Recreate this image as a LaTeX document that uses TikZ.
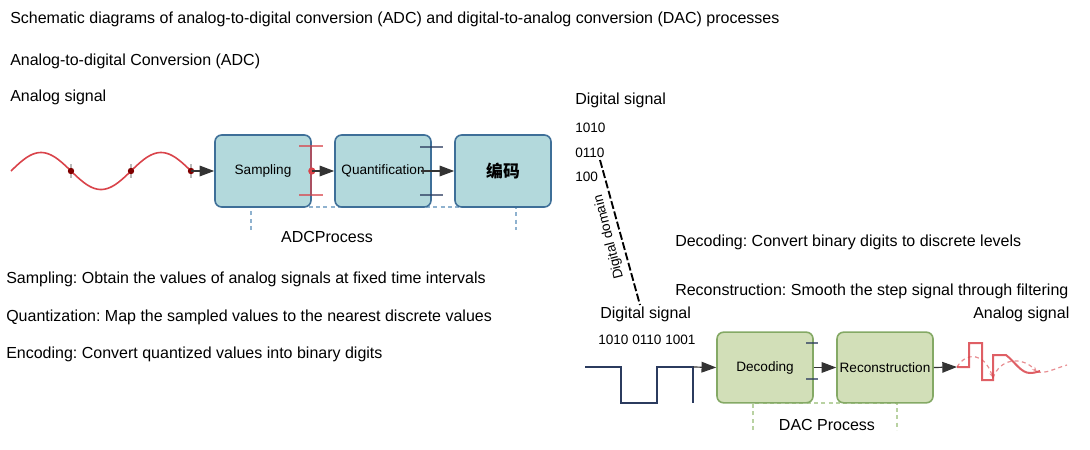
\documentclass[tikz,border=0pt]{standalone}
\usepackage{fontspec}
\setmainfont{Liberation Sans}
\newfontfamily\cjk{Noto Sans CJK SC}
\usetikzlibrary{arrows.meta,calc}
\frenchspacing
\definecolor{adcfill}{HTML}{B3D9DC}
\definecolor{adcline}{HTML}{3E6F98}
\definecolor{adcdash}{HTML}{8FB2CF}
\definecolor{dacfill}{HTML}{D2DFB8}
\definecolor{dacline}{HTML}{84A965}
\definecolor{dacdash}{HTML}{B9D2A2}
\definecolor{sigred}{HTML}{D9434A}
\definecolor{navy}{HTML}{2B3B5E}
\definecolor{arrgrey}{HTML}{333333}
\tikzset{
  txt/.style={anchor=west, inner sep=0pt, font=\fontsize{12}{14}\selectfont},
  numtxt/.style={anchor=west, inner sep=0pt, font=\fontsize{10.2}{12}\selectfont},
  captxt/.style={inner sep=0pt, font=\fontsize{12}{14}\selectfont},
  adcbox/.style={draw=adcline, line width=1.2pt, fill=adcfill, rounded corners=5pt,
                 minimum width=72pt, minimum height=54pt, inner sep=0pt,
                 font=\fontsize{10.2}{12}\selectfont},
  dacbox/.style={draw=dacline, line width=1.2pt, fill=dacfill, rounded corners=5pt,
                 minimum width=72pt, minimum height=53pt, inner sep=0pt,
                 font=\fontsize{10.2}{12}\selectfont},
  arr/.style={-{Triangle[length=11pt,width=8pt]}, line width=0.9pt, color=arrgrey},
  boxdash/.style={line width=0.8pt, dash pattern=on 3pt off 2.5pt},
  tickmark/.style={line width=1.2pt, opacity=0.7}}

\begin{document}
\begin{tikzpicture}[x=0.75pt, y=-0.75pt]
    \useasboundingbox (0,0) rectangle (1090,450);
    % headings
    \node[txt] (title) at (10,19)
      {Schematic diagrams of analog-to-digital conversion (ADC) and digital-to-analog conversion (DAC) processes};
    \node[txt] (adchead) at (10,61) {Analog-to-digital Conversion (ADC)};
    \node[txt] (ain) at (10,97) {Analog signal};
    % ADC chain
    \draw[boxdash, adcdash] (251,230) -- (251,207) -- (516,207) -- (516,230);
    \node[adcbox] (samp) at (263,171) {Sampling};
    \node[adcbox] (quant) at (383,171) {Quantification};
    \node[adcbox, font=\cjk\bfseries\fontsize{12.6}{14}\selectfont] (enc) at (503,171) {编码};
    \node[captxt] (adcp) at (327,237) {ADCProcess};
    % the analog input and its samples
    \draw[sigred, line width=1.2pt] plot[domain=11:191, samples=90] (\x, {171-18.5*sin(3*(\x-11))});
    \foreach \x in {71,131,191} {
      \draw[gray!55, line width=1.2pt] (\x,164) -- (\x,178);
      \fill[red!50!black] (\x,171) circle (3.2);
    }
    \coordinate (wend) at (191,171);
    \draw[arr] (wend) -- (samp.west);
    \draw[tickmark, sigred] (299,146) -- (323,146) (311,146) -- (311,195) (299,195) -- (323,195);
    \fill[sigred] (samp.east) circle (3.6);
    \draw[arr] (samp.east) -- (quant.west);
    \draw[tickmark, navy] (420,147) -- (443,147) (420,195) -- (443,195);
    \draw[arr] ($(quant.east)+(-11,0)$) -- (enc.west);
    % the notes
    \node[txt] (nsamp) at (6,279) {Sampling: Obtain the values of analog signals at fixed time intervals};
    \node[txt] (nquant) at (6,317) {Quantization: Map the sampled values to the nearest discrete values};
    \node[txt] (nenc) at (6,354) {Encoding: Convert quantized values into binary digits};
    % digital domain
    \node[txt] (dtop) at (575,100) {Digital signal};
    \node[numtxt] (bits1) at (575,128) {1010};
    \node[numtxt] (bits2) at (575,153) {0110};
    \node[numtxt] (bits3) at (575,177) {100};
    \coordinate (dom1) at (600,160);
    \coordinate (dom2) at (640,305);
    \draw[line width=1.4pt, dash pattern=on 6pt off 2pt] (dom1) -- (dom2);
    \node[inner sep=0pt, rotate=104.5, font=\fontsize{10.2}{12}\selectfont] (dom) at (609,237) {Digital domain};
    \node[txt] (ndec) at (675,242) {Decoding: Convert binary digits to discrete levels};
    \node[txt] (nrec) at (675,291) {Reconstruction: Smooth the step signal through filtering};
    % DAC chain
    \node[txt] (dbot) at (600,314) {Digital signal};
    \node[numtxt] (bitsrow) at (598,340) {1010 0110 1001};
    \node[txt] (aout) at (973,314) {Analog signal};
    \draw[boxdash, dacdash] (753,430) -- (753,403) -- (897,403) -- (897,430);
    \node[dacbox] (dec) at (765,367.5) {Decoding};
    \node[dacbox] (rec) at (885,367.5) {Reconstruction};
    \node[captxt] (dacp) at (827,425) {DAC Process};
    \draw[navy, line width=1.6pt] (585,367) -- (621,367) -- (621,403) -- (657,403)
      -- (657,367) -- (693,367) -- (693,403);
    \coordinate (sqend) at (693,367);
    \draw[arr] (sqend) -- (dec.west);
    \draw[tickmark, navy] (806,343) -- (818,343) (806,379) -- (818,379);
    \draw[arr] (dec.east) -- (rec.west);
    \coordinate (outstart) at (957,367);
    \draw[arr] (rec.east) -- (outstart);
    % the reconstructed output
    \draw[sigred!60, line width=0.9pt, dash pattern=on 3pt off 2.5pt, -{Stealth[length=4pt]}]
      (outstart) .. controls (966,352) and (984,352) .. (993,378);
    \draw[sigred!60, line width=0.9pt, dash pattern=on 3pt off 2.5pt, -{Stealth[length=4pt]}]
      (993,378) .. controls (1000,358) and (1022,356) .. (1037,372);
    \draw[sigred!60, line width=0.9pt, dash pattern=on 3pt off 2.5pt]
      (1037,372) .. controls (1046,374) and (1056,368) .. (1067,365);
    \draw[sigred, line width=1.5pt, opacity=0.85] (outstart) -- (969,367) -- (969,343) -- (982,343)
      -- (982,380) -- (993,380) -- (993,355) -- (1006,355)
      .. controls (1015,362) and (1021,373) .. (1030,373) .. controls (1034,373) and (1037,372) .. (1040,371);
\end{tikzpicture}
\end{document}
